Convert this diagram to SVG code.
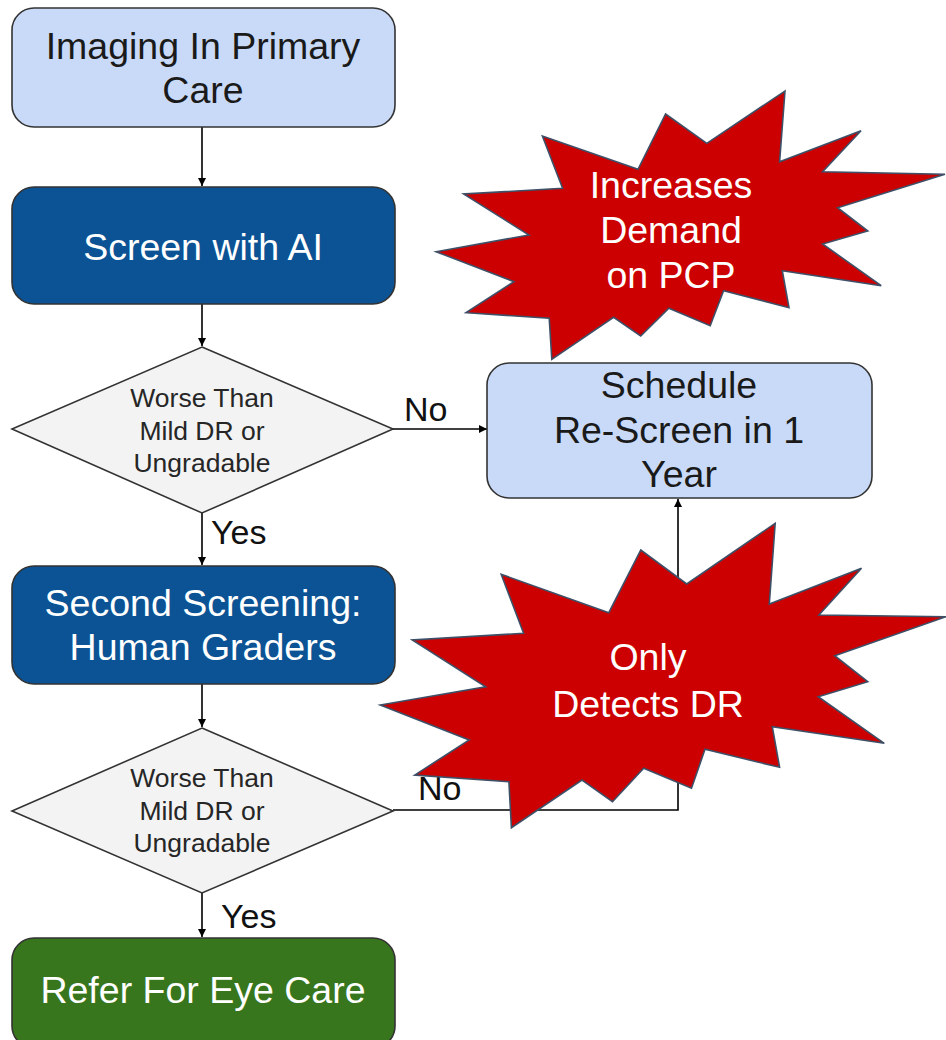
<svg xmlns="http://www.w3.org/2000/svg" width="946" height="1040" viewBox="0 0 946 1040">
  <defs>
    <style>
      text { font-family: "Liberation Sans", Arial, sans-serif; text-anchor: middle; }
      .box { stroke: #333333; stroke-width: 1.6; }
      .light { fill: #c9daf8; }
      .dark { fill: #0b5394; }
      .green { fill: #38761d; }
      .dia { fill: #f3f3f3; stroke: #333333; stroke-width: 1.6; }
      .t-dark { fill: #1a1a1a; font-size: 37.5px; }
      .t-white { fill: #ffffff; font-size: 37.5px; }
      .t-dia { fill: #262626; font-size: 26.5px; }
      .lbl { fill: #111111; font-size: 34px; text-anchor: start; }
      .edge { fill: none; stroke: #000000; stroke-width: 1.6; }
      .burst { fill: #cc0000; stroke: #3d5068; stroke-width: 1.6; stroke-linejoin: miter; }
    </style>
    <marker id="arrow" viewBox="0 0 10 10" refX="10" refY="5" markerWidth="8" markerHeight="8" markerUnits="userSpaceOnUse" orient="auto">
      <path d="M0,0 L10,5 L0,10 z" fill="#000000"/>
    </marker>
  </defs>

  <!-- connectors -->
  <g id="connectors">
    <path class="edge" d="M202,127 V186" marker-end="url(#arrow)"/>
    <path class="edge" d="M202,304 V346" marker-end="url(#arrow)"/>
    <path class="edge" d="M202,513 V565" marker-end="url(#arrow)"/>
    <path class="edge" d="M393,429 H487" marker-end="url(#arrow)"/>
    <path class="edge" d="M202,684 V727" marker-end="url(#arrow)"/>
    <path class="edge" d="M202,893 V937" marker-end="url(#arrow)"/>
    <path class="edge" d="M393,810 H678 V499" marker-end="url(#arrow)"/>
    <text class="lbl" x="404" y="421">No</text>
    <text class="lbl" x="211" y="544">Yes</text>
    <text class="lbl" x="418" y="800">No</text>
    <text class="lbl" x="221" y="928">Yes</text>
  </g>

  <g id="imaging">
    <rect class="box light" x="12" y="8" width="383" height="119" rx="22"/>
    <text class="t-dark" x="203" y="59">Imaging In Primary</text>
    <text class="t-dark" x="203" y="103">Care</text>
  </g>

  <g id="screen-ai">
    <rect class="box dark" x="12" y="187" width="383" height="117" rx="22"/>
    <text class="t-white" x="203" y="260">Screen with AI</text>
  </g>

  <g id="decision-1">
    <polygon class="dia" points="202,347 393,429 202,513 12,429"/>
    <text class="t-dia" x="202" y="407">Worse Than</text>
    <text class="t-dia" x="202" y="440">Mild DR or</text>
    <text class="t-dia" x="202" y="472">Ungradable</text>
  </g>

  <g id="second-screening">
    <rect class="box dark" x="12" y="566" width="383" height="118" rx="22"/>
    <text class="t-white" x="203" y="616">Second Screening:</text>
    <text class="t-white" x="203" y="660">Human Graders</text>
  </g>

  <g id="decision-2">
    <polygon class="dia" points="202,728 393,811 202,893 12,811"/>
    <text class="t-dia" x="202" y="787">Worse Than</text>
    <text class="t-dia" x="202" y="820">Mild DR or</text>
    <text class="t-dia" x="202" y="852">Ungradable</text>
  </g>

  <g id="refer">
    <rect class="box green" x="12" y="938" width="383" height="110" rx="22"/>
    <text class="t-white" x="203" y="1003">Refer For Eye Care</text>
  </g>

  <g id="rescreen">
    <rect class="box light" x="487" y="363" width="385" height="135" rx="22"/>
    <text class="t-dark" x="679" y="398">Schedule</text>
    <text class="t-dark" x="679" y="443">Re-Screen in 1</text>
    <text class="t-dark" x="679" y="487">Year</text>
  </g>

  <g id="burst-demand">
    <polygon class="burst" points="785,91 779.6,161.7 861,130.7 822.6,171.7 945,174.3 837.6,207.7 867.8,231 822.6,244 881.2,285.7 782.3,270.7 789,307.7 723.6,290.7 710.2,325.7 668.9,308.3 640.7,336 613.6,317.3 551.8,359.3 549.2,318.3 466,312.7 513.9,281.7 436.1,251.7 529,235 463.6,194 562.6,188.3 542.4,136 638,169.3 665.6,114 706.8,143.3"/>
    <text class="t-white" x="671" y="198">Increases</text>
    <text class="t-white" x="671" y="243">Demand</text>
    <text class="t-white" x="671" y="288">on PCP</text>
  </g>

  <g id="burst-detects">
    <polygon class="burst" points="775.2,523.3 769.3,604 861.5,568.3 818.9,615 946,616.7 834.7,655.7 867.8,681.7 818.2,696.7 884.3,743.3 772.3,726.7 779.6,767.3 705,749.3 691.5,788.3 643.7,768.3 612.5,801.7 582,780 511.4,827.7 508.9,781.7 414.8,775 469.2,740 380.3,705 485.7,686.7 412.2,640 523.6,633.3 501.2,574.3 608.8,612.7 640.8,550 686.7,584"/>
    <text class="t-white" x="648" y="670">Only</text>
    <text class="t-white" x="648" y="717">Detects DR</text>
  </g>
</svg>
